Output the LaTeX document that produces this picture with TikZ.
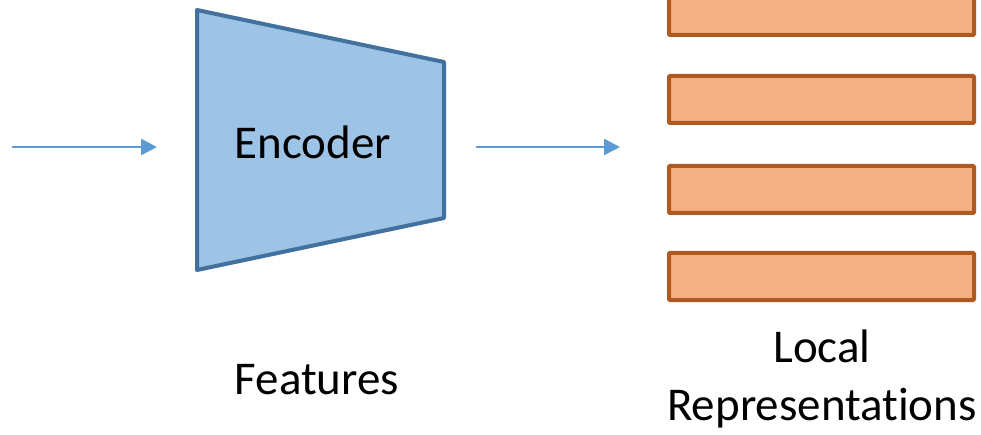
\documentclass[tikz,border=0pt]{standalone}
\usepackage{fontspec}
\setmainfont[Ligatures={NoCommon}]{Carlito}
\usetikzlibrary{arrows.meta}
\definecolor{encfill}{HTML}{9DC3E6}
\definecolor{encline}{HTML}{41719C}
\definecolor{repfill}{HTML}{F4B183}
\definecolor{repline}{HTML}{AE5A21}
\definecolor{flow}{HTML}{5B9BD5}
\tikzset{
  flowarrow/.style={draw=flow, line width=2.5pt, -{Triangle[length=16pt,width=16pt]}},
  repbar/.style={draw=repline, fill=repfill, line width=4pt, rounded corners=1pt,
    minimum width=305pt, minimum height=47pt, inner sep=0pt},
  label/.style={font=\fontsize{47}{58}\selectfont, align=center, inner sep=0pt},
}
\begin{document}
\begin{tikzpicture}[x=1pt, y=-1pt]
  \useasboundingbox (0,0) rectangle (981,435);
  % encoder trapezoid
  \draw[draw=encline, fill=encfill, line width=4pt, line join=round]
    (197,10) -- (444,62) -- (444,218) -- (197,270) -- cycle;
  \node[label] (enc) at (313,142) {Encoder};
  % input and output arrows
  \coordinate (inA) at (12,147);
  \coordinate (inB) at (157,147);
  \coordinate (outA) at (476,147);
  \coordinate (outB) at (620,147);
  \draw[flowarrow] (inA) -- (inB);
  \draw[flowarrow] (outA) -- (outB);
  % local representation bars
  \node[repbar] (r1) at (821.5,11.5) {};
  \node[repbar] (r2) at (821.5,99.5) {};
  \node[repbar] (r3) at (821.5,189.5) {};
  \node[repbar] (r4) at (821.5,276.5) {};
  % captions
  \node[label] (feat) at (317,380) {Features};
  \node[label] (local) at (822,379) {Local\\Representations};
\end{tikzpicture}
\end{document}
